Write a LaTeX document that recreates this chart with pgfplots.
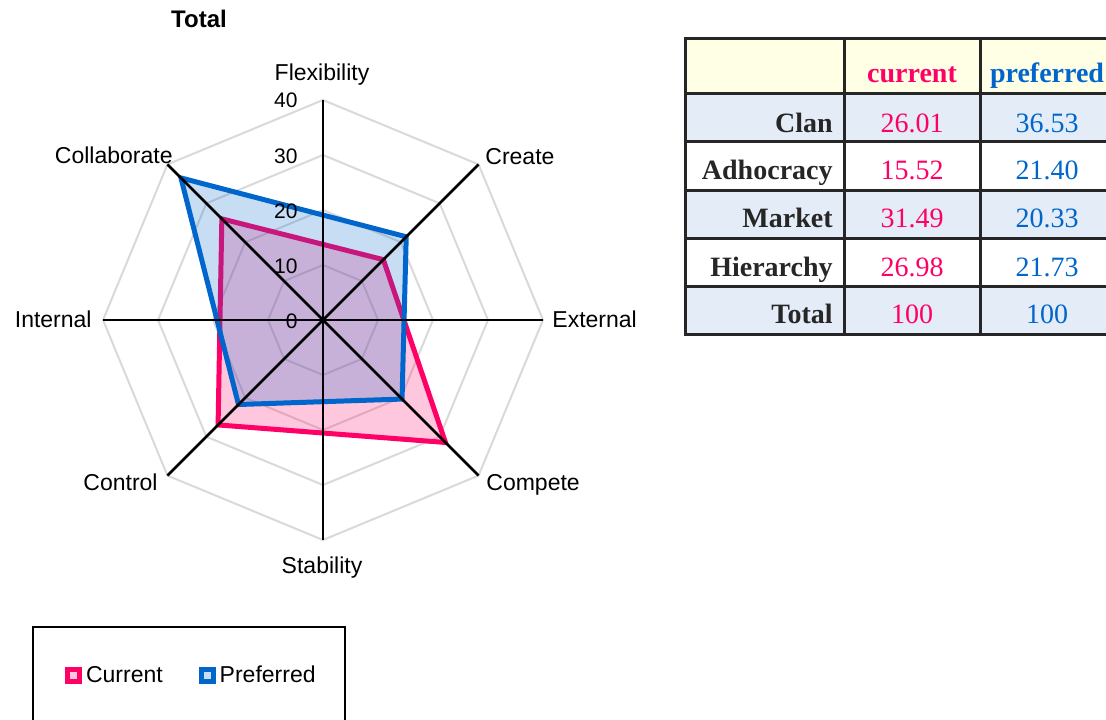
\documentclass[border=0pt]{standalone}
\usepackage{fontspec}
\setmainfont{Liberation Sans}
\newfontfamily\tabfont{Liberation Serif}
\usepackage{pgfplots}
\pgfplotsset{compat=1.18}
\usepgfplotslibrary{polar}
\definecolor{curc}{RGB}{255,0,102}
\definecolor{prefc}{RGB}{0,102,204}
\definecolor{gridc}{RGB}{217,217,217}
\definecolor{hdrc}{RGB}{255,255,229}
\definecolor{rowc}{RGB}{228,236,247}
\definecolor{tabline}{RGB}{38,38,38}
\begin{document}
\begin{tikzpicture}
\useasboundingbox (0pt,0pt) rectangle (553pt,359.5pt);
\begin{axis}[
  at={(161.5pt,199.5pt)}, anchor=center,
  width=220pt, height=220pt, scale only axis,
  hide axis, xmin=-40, xmax=40, ymin=-40, ymax=40,
  clip=false,
  legend style={at={(0.203,-0.309)}, anchor=center, draw=none, fill=none,
    legend columns=2, font=\fontsize{11.5}{13}\selectfont,
    /tikz/every even column/.append style={column sep=16pt},
    nodes={inner sep=2pt}},
  legend image code/.code={\draw[#1] (0pt,-3pt) rectangle (6pt,3pt);},
]
% octagonal grid
\addplot[data cs=polar, gridc, line width=1pt, forget plot] coordinates {(0,10)(45,10)(90,10)(135,10)(180,10)(225,10)(270,10)(315,10)} -- cycle;
\addplot[data cs=polar, gridc, line width=1pt, forget plot] coordinates {(0,20)(45,20)(90,20)(135,20)(180,20)(225,20)(270,20)(315,20)} -- cycle;
\addplot[data cs=polar, gridc, line width=1pt, forget plot] coordinates {(0,30)(45,30)(90,30)(135,30)(180,30)(225,30)(270,30)(315,30)} -- cycle;
\addplot[data cs=polar, gridc, line width=1pt, forget plot] coordinates {(0,40)(45,40)(90,40)(135,40)(180,40)(225,40)(270,40)(315,40)} -- cycle;
% series
\addplot[data cs=polar, draw=curc, line width=2.5pt, fill=curc, fill opacity=0.22] coordinates {(90,13.75)(45,15.52)(0,14.70)(315,31.49)(270,20.55)(225,26.98)(180,18.73)(135,26.01)} -- cycle;
\addlegendentry{Current}
\addplot[data cs=polar, draw=prefc, line width=2.5pt, fill=prefc, fill opacity=0.22] coordinates {(90,19.08)(45,21.40)(0,14.74)(315,20.33)(270,14.85)(225,21.73)(180,19.27)(135,36.53)} -- cycle;
\addlegendentry{Preferred}
% spokes
\addplot[data cs=polar, black, line width=1.25pt, forget plot] coordinates {(0,40)(180,40)};
\addplot[data cs=polar, black, line width=1.25pt, forget plot] coordinates {(45,40)(225,40)};
\addplot[data cs=polar, black, line width=1.25pt, forget plot] coordinates {(90,40)(270,40)};
\addplot[data cs=polar, black, line width=1.25pt, forget plot] coordinates {(135,40)(315,40)};
\end{axis}
\begin{scope}[x=0.5pt,y=0.5pt]
% title
\node[anchor=base, inner sep=0] at (199,691) {\fontsize{12}{14}\selectfont\bfseries Total};
% category labels
\begin{scope}[every node/.style={inner sep=0, font=\fontsize{11.5}{13}\selectfont}]
\node[anchor=base] at (322,638) {Flexibility};
\node[anchor=base west] at (485,554) {Create};
\node[anchor=base west] at (552,392) {External};
\node[anchor=base west] at (486,229) {Compete};
\node[anchor=base] at (322,146) {Stability};
\node[anchor=base east] at (158,229) {Control};
\node[anchor=base east] at (92,392) {Internal};
\node[anchor=base east] at (173,555) {Collaborate};
\end{scope}
% radial tick labels
\begin{scope}[every node/.style={inner sep=0, anchor=base east, font=\fontsize{10.5}{12}\selectfont}]
\node at (298,611) {40};
\node at (298,556) {30};
\node at (298,501) {20};
\node at (298,446) {10};
\node at (298,391) {0};
\end{scope}
% legend box
\draw[black, line width=1.2pt] (33,-20) rectangle (345,92);
% table
\fill[hdrc] (685,625) rectangle (1114,680);
\fill[rowc] (685,577) rectangle (1114,625);
\fill[rowc] (685,481) rectangle (1114,529);
\fill[rowc] (685,385) rectangle (1114,433);
\begin{scope}[draw=tabline, line width=1.5pt]
\draw (685,385) rectangle (1114,680);
\foreach \yy in {625,577,529,481,433} {\draw (685,\yy) -- (1114,\yy);}
\draw (844,385) -- (844,680);
\draw (980,385) -- (980,680);
\end{scope}
\begin{scope}[every node/.style={inner sep=0, font=\tabfont\fontsize{14}{16}\selectfont}]
\node[anchor=base, text=curc] at (912,636) {\bfseries current};
\node[anchor=base, text=prefc] at (1047,636) {\bfseries preferred};
\node[anchor=base east, text=tabline] at (833,587) {\bfseries Clan};
\node[anchor=base east, text=tabline] at (833,540) {\bfseries Adhocracy};
\node[anchor=base east, text=tabline] at (833,492) {\bfseries Market};
\node[anchor=base east, text=tabline] at (833,443) {\bfseries Hierarchy};
\node[anchor=base east, text=tabline] at (833,396) {\bfseries Total};
\node[anchor=base, text=curc] at (912,587) {26.01};
\node[anchor=base, text=curc] at (912,540) {15.52};
\node[anchor=base, text=curc] at (912,492) {31.49};
\node[anchor=base, text=curc] at (912,443) {26.98};
\node[anchor=base, text=curc] at (912,396) {100};
\node[anchor=base, text=prefc] at (1047,587) {36.53};
\node[anchor=base, text=prefc] at (1047,540) {21.40};
\node[anchor=base, text=prefc] at (1047,492) {20.33};
\node[anchor=base, text=prefc] at (1047,443) {21.73};
\node[anchor=base, text=prefc] at (1047,396) {100};
\end{scope}
\end{scope}
\end{tikzpicture}
\end{document}
